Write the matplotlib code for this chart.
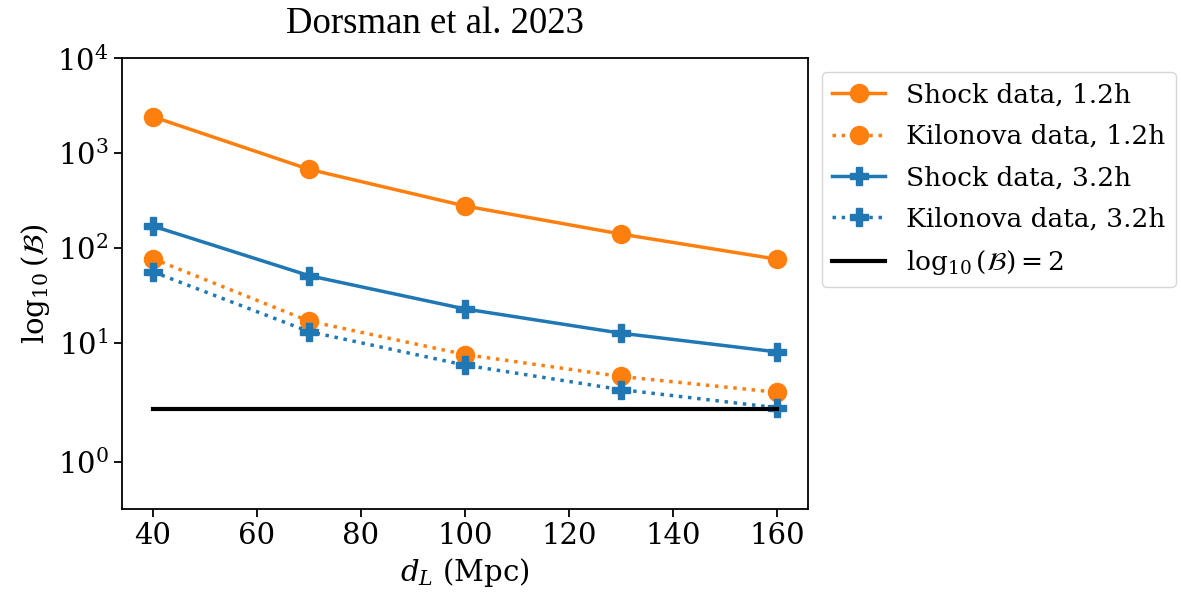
import matplotlib
matplotlib.use('Agg')
import matplotlib.pyplot as plt
from matplotlib.ticker import NullLocator
import numpy as np

plt.rcParams.update({'font.family': 'DejaVu Serif',
                     'mathtext.fontset': 'dejavuserif'})

# luminosity distances (Mpc) and Bayes factors
d_L = [40, 70, 100, 130, 160]
shock_12 = [2420, 675, 277, 140, 76]
kilonova_12 = [77, 16.9, 7.5, 4.4, 3.0]
shock_32 = [170, 51, 22.7, 12.6, 8.0]
kilonova_32 = [56, 13.1, 5.8, 3.2, 2.06]
threshold = 2

ytick_vals = [1, 10, 100, 1000, 10000]
ytick_labels = [r'$10^{0}$', r'$10^{1}$', r'$10^{2}$', r'$10^{3}$', r'$10^{4}$']

fig = plt.figure(figsize=(11.81, 5.97), dpi=100)
ax = fig.add_axes([121.7/1181, 1 - 509/597, (808 - 121.7)/1181, (509 - 58.3)/597])

ax.plot(d_L, shock_12, '-o', color='C1', lw=2.5, ms=13, label='Shock data, 1.2h')
ax.plot(d_L, kilonova_12, ':o', color='C1', lw=2.5, ms=13, label='Kilonova data, 1.2h')
ax.plot(d_L, shock_32, '-P', color='C0', lw=2.5, ms=13, label='Shock data, 3.2h')
ax.plot(d_L, kilonova_32, ':P', color='C0', lw=2.5, ms=13, label='Kilonova data, 3.2h')
ax.plot([d_L[0], d_L[-1]], [threshold, threshold], '-', color='k', lw=3,
        label=r'$\log_{10}(\mathcal{B}) = 2$')

ax.set_yscale('symlog')
ax.set_ylim(0.1, 1e4)
ax.set_yticks(ytick_vals)
ax.set_yticklabels(ytick_labels)
ax.yaxis.set_minor_locator(NullLocator())
ax.set_xticks([40, 60, 80, 100, 120, 140, 160])

ax.tick_params(labelsize=21, width=1.3, length=6)
for s in ax.spines.values():
    s.set_linewidth(1.3)

ax.set_xlabel(r'$d_L$ (Mpc)', fontsize=21)
ax.set_ylabel(r'$\log_{10}(\mathcal{B})$', fontsize=21)

ax.legend(loc='upper left', bbox_to_anchor=(1.02, 0.97), fontsize=19,
          borderaxespad=0, handlelength=2.0, labelspacing=0.62)

fig.text(435/1181, 1 - 24/597, 'Dorsman et al. 2023', family='Liberation Serif',
         fontsize=26.5, ha='center', va='center')

plt.savefig('out.png', dpi=100)
